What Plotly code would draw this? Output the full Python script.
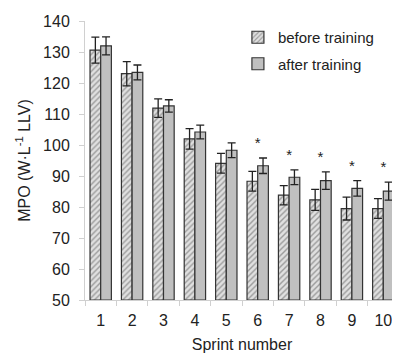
import plotly.graph_objects as go

sprints = ["1", "2", "3", "4", "5", "6", "7", "8", "9", "10"]
before = [130.6, 123.0, 111.9, 102.0, 94.1, 88.3, 83.8, 82.3, 79.5, 79.5]
before_err = [4.2, 3.9, 3.0, 3.3, 3.2, 3.2, 3.1, 3.4, 3.7, 3.2]
after = [132.0, 123.4, 112.6, 104.2, 98.3, 93.3, 89.6, 88.5, 86.0, 85.1]
after_err = [2.9, 2.4, 2.0, 2.2, 2.4, 2.5, 2.4, 2.8, 2.5, 2.9]
significant = [False, False, False, False, False, True, True, True, True, True]

font = "Liberation Sans, Arial, sans-serif"
dark = "#333333"
AXIS_MIN = 50

fig = go.Figure()
fig.add_trace(go.Bar(
    x=sprints, y=[v - AXIS_MIN for v in before], base=AXIS_MIN, name="before training",
    legendgroup="b",
    marker=dict(color="#d6d6d6", line=dict(color=dark, width=1.2),
                pattern=dict(shape="/", size=4, solidity=0.35, fgcolor="#555555", bgcolor="#e0e0e0")),
    error_y=dict(type="data", array=before_err, color="#222222", thickness=1.3, width=4),
))
fig.add_trace(go.Bar(
    x=sprints, y=[v - AXIS_MIN for v in after], base=AXIS_MIN, name="after training",
    legendgroup="a",
    marker=dict(color="#c0c0c0", line=dict(color=dark, width=1.2)),
    error_y=dict(type="data", array=after_err, color="#222222", thickness=1.3, width=4),
))

star_x = [s for s, sig in zip(sprints, significant) if sig]
star_y = [a + e + 4.4 for a, e, sig in zip(after, after_err, significant) if sig]
fig.add_trace(go.Scatter(
    x=star_x, y=star_y, mode="text", text=["*"] * len(star_x),
    textfont=dict(family=font, size=15, color="#222222"), showlegend=False, hoverinfo="skip",
))

fig.update_layout(
    width=400, height=357,
    margin=dict(l=77, r=9, t=13, b=65, autoexpand=False),
    plot_bgcolor="white", paper_bgcolor="white",
    barmode="group", bargap=0.32, bargroupgap=0,
    font=dict(family=font, size=16, color="#222222"),
    legend=dict(x=0.487, y=1.0, xanchor="left", yanchor="top", bgcolor="rgba(0,0,0,0)",
                font=dict(size=15), tracegroupgap=4, itemwidth=30),
)
fig.update_xaxes(
    type="category", showline=True, linecolor="#d0d0d0", linewidth=1,
    ticks="outside", tickson="boundaries", ticklen=5, tickcolor="#d0d0d0",
    showgrid=False, tickfont=dict(size=16), ticklabelstandoff=6, automargin=False,
    title=dict(text="Sprint number", font=dict(size=16), standoff=10),
)
fig.update_yaxes(
    range=[50, 140], dtick=10, showline=True, linecolor="#d0d0d0", linewidth=1,
    ticks="outside", ticklen=5, tickcolor="#d0d0d0", showgrid=False,
    tickfont=dict(size=16), ticklabelstandoff=6, automargin=False,
    title=dict(text="MPO (W·L<sup>-1</sup> LLV)", font=dict(size=16), standoff=8),
)

fig.write_html("out.html")
